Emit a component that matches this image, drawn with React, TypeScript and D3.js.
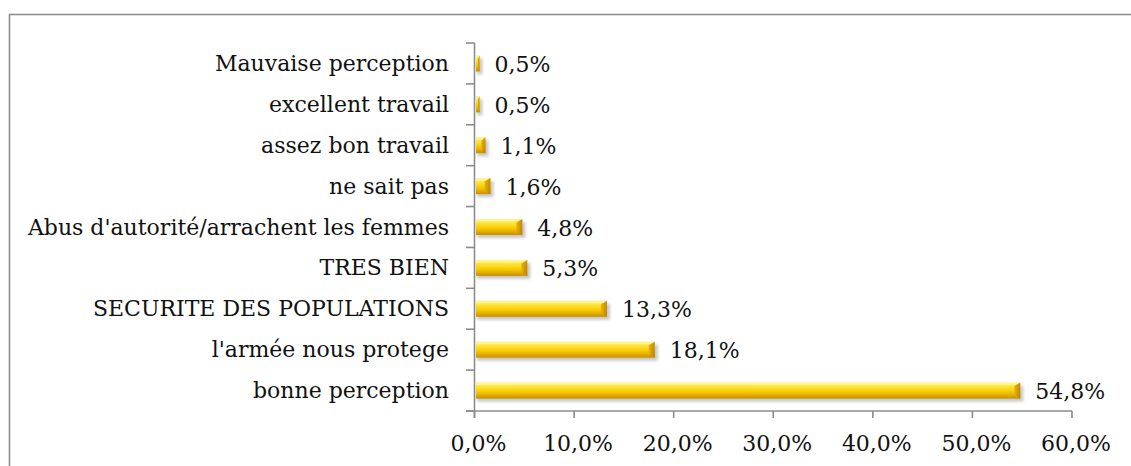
import * as d3 from "d3";

const categories = [
  "Mauvaise perception",
  "excellent travail",
  "assez bon travail",
  "ne sait pas",
  "Abus d'autorité/arrachent les femmes",
  "TRES BIEN",
  "SECURITE DES POPULATIONS",
  "l'armée nous protege",
  "bonne perception",
];
const values = [0.5, 0.5, 1.1, 1.6, 4.8, 5.3, 13.3, 18.1, 54.8];
const xTicks = [0, 10, 20, 30, 40, 50, 60];

const W = 1131;
const H = 466;
const FONT = "'DejaVu Serif', 'Liberation Serif', serif";
const FS = 22;

const fmt = (v: number) => v.toFixed(1).replace(".", ",") + "%";

export default function App() {
  const x = d3.scaleLinear().domain([0, 60]).range([474.5, 1072]);
  const y = d3.scaleBand<string>().domain(categories).range([43, 411]).padding(0);
  const bw = y.bandwidth();
  const barH = 16;
  const axisColor = "#8c8c8c";

  return (
    <div style={{ position: "absolute", left: 0, top: 0 }}>
      <svg width={W} height={H} style={{ display: "block", background: "#fff" }}>
        <defs>
          <linearGradient id="gold" x1="0" y1="0" x2="0" y2="1">
            <stop offset="0" stopColor="#fff27a" />
            <stop offset="0.25" stopColor="#ffe43a" />
            <stop offset="0.6" stopColor="#f6c800" />
            <stop offset="1" stopColor="#c98e00" />
          </linearGradient>
          <linearGradient id="cap" x1="0" y1="0" x2="1" y2="0">
            <stop offset="0" stopColor="#e8b000" />
            <stop offset="1" stopColor="#b97f00" />
          </linearGradient>
          <filter id="shadow" x="-10%" y="-50%" width="130%" height="250%">
            <feGaussianBlur stdDeviation="1.6" />
          </filter>
        </defs>

        {/* cadre */}
        <rect x={9.5} y={14.5} width={1200} height={600} fill="none" stroke="#8f8f8f" strokeWidth={1.6} />

        {/* barres */}
        {categories.map((c, i) => {
          const v = values[i];
          const x0 = x(0) + 1.5;
          const x1 = x(v);
          const yc = (y(c) as number) + bw / 2;
          const y0 = yc - barH / 2;
          const w = Math.max(x1 - x0, 3);
          const capW = Math.min(6, w * 0.45);
          return (
            <g key={c}>
              <rect x={x0 + 1} y={y0 + 3} width={w + 2} height={barH} fill="#9a9a9a" opacity={0.55} filter="url(#shadow)" />
              <rect x={x0} y={y0} width={w} height={barH} fill="url(#gold)" />
              <rect x={x0} y={y0} width={w} height={2.5} fill="#fff59a" opacity={0.85} />
              <polygon
                points={`${x0 + w - capW},${y0 + 3.5} ${x0 + w},${y0} ${x0 + w},${y0 + barH} ${x0 + w - capW},${y0 + barH - 3}`}
                fill="url(#cap)"
                opacity={0.9}
              />
              <text
                x={x1 + 15}
                y={yc + 1}
                dominantBaseline="central"
                fontFamily={FONT}
                fontSize={FS}
                fill="#111"
              >
                {fmt(v)}
              </text>
            </g>
          );
        })}

        {/* axe vertical */}
        <line x1={x(0)} x2={x(0)} y1={43} y2={418} stroke={axisColor} strokeWidth={1.6} />
        {d3.range(categories.length + 1).map((k) => {
          const yy = 43 + k * bw;
          return <line key={k} x1={466} x2={x(0)} y1={yy} y2={yy} stroke={axisColor} strokeWidth={1.6} />;
        })}
        {categories.map((c) => (
          <text
            key={c}
            x={449}
            y={(y(c) as number) + bw / 2}
            textAnchor="end"
            dominantBaseline="central"
            fontFamily={FONT}
            fontSize={FS}
            fill="#111"
          >
            {c}
          </text>
        ))}

        {/* axe horizontal */}
        <line x1={466} x2={x(60)} y1={411} y2={411} stroke={axisColor} strokeWidth={1.6} />
        {xTicks.map((t) => (
          <g key={t}>
            <line x1={x(t)} x2={x(t)} y1={411} y2={418} stroke={axisColor} strokeWidth={1.6} />
            <text
              x={x(t) + 4}
              y={443}
              textAnchor="middle"
              dominantBaseline="central"
              fontFamily={FONT}
              fontSize={FS}
              fill="#111"
            >
              {fmt(t)}
            </text>
          </g>
        ))}
      </svg>
    </div>
  );
}
